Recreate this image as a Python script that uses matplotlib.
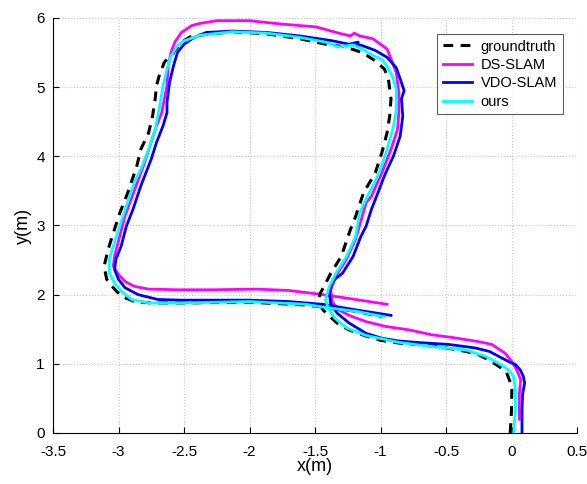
import matplotlib
matplotlib.use("Agg")
from matplotlib import pyplot as plt

plt.rcParams["font.family"] = ["Liberation Sans", "DejaVu Sans"]
plt.rcParams["axes.unicode_minus"] = False

# trajectories (x, y in metres)
gt_x = [-0.01, 0.0, 0.003, -0.037, -0.08, -0.15, -0.25, -0.35, -0.5, -0.66, -0.86, -1.0,
        -1.11, -1.24, -1.32, -1.39, -1.44, -1.47, -1.46, -1.43, -1.38, -1.30, -1.23,
        -1.19, -1.13, -1.04, -0.99, -0.95, -0.93, -0.92, -0.94, -0.97, -1.04, -1.14,
        -1.27, -1.42, -1.62, -1.87, -2.13, -2.38, -2.44, -2.52, -2.58, -2.65, -2.69,
        -2.71, -2.72, -2.74, -2.77, -2.83, -2.86, -2.93, -2.99, -3.04, -3.08, -3.11,
        -3.09, -3.04, -2.98, -2.88, -2.75, -2.5, -2.0, -1.57, -1.44, -1.19, -0.99]
gt_y = [0.0, 0.33, 0.67, 0.87, 0.94, 1.03, 1.13, 1.18, 1.23, 1.27, 1.30, 1.34,
        1.40, 1.49, 1.57, 1.69, 1.78, 1.95, 2.02, 2.12, 2.31, 2.55, 2.94,
        3.13, 3.47, 3.76, 4.05, 4.34, 4.58, 4.83, 5.12, 5.26, 5.38, 5.50,
        5.58, 5.62, 5.70, 5.77, 5.80, 5.75, 5.74, 5.65, 5.50, 5.36, 5.16,
        5.02, 4.83, 4.58, 4.34, 4.10, 3.86, 3.47, 3.18, 2.89, 2.65, 2.41,
        2.22, 2.10, 1.98, 1.90, 1.88, 1.88, 1.89, 1.85, 1.82, 1.76, 1.68]

ds_x = [0.06, 0.06, 0.07, 0.04, 0.003, -0.047, -0.15, -0.25, -0.45, -0.61, -0.78,
        -0.96, -1.11, -1.24, -1.32, -1.37, -1.38, -1.34, -1.26, -1.19, -1.11, -1.07,
        -0.99, -0.92, -0.87, -0.86, -0.86, -0.88, -0.91, -0.95, -1.0, -1.06, -1.16,
        -1.2, -1.23, -1.32, -1.49, -1.75, -2.0, -2.25, -2.38, -2.44, -2.52, -2.57,
        -2.60, -2.62, -2.63, -2.65, -2.67, -2.71, -2.76, -2.81, -2.88, -2.95, -2.99,
        -3.03, -3.04, -3.0, -2.95, -2.88, -2.77, -2.55, -2.27, -1.95, -1.70, -1.44,
        -1.19, -0.95]
ds_y = [0.2, 0.57, 0.77, 0.91, 1.03, 1.15, 1.28, 1.32, 1.38, 1.42, 1.49,
        1.54, 1.61, 1.70, 1.78, 1.90, 2.07, 2.27, 2.51, 2.80, 3.33, 3.42,
        3.76, 4.10, 4.39, 4.63, 4.92, 5.21, 5.36, 5.55, 5.62, 5.70, 5.74,
        5.78, 5.74, 5.78, 5.87, 5.91, 5.96, 5.96, 5.92, 5.89, 5.79, 5.65,
        5.50, 5.31, 5.02, 4.83, 4.63, 4.44, 4.15, 3.86, 3.50, 3.14, 2.85,
        2.56, 2.41, 2.29, 2.19, 2.12, 2.08, 2.07, 2.07, 2.08, 2.06, 2.0,
        1.93, 1.86]

vdo_x = [0.08, 0.08, 0.085, 0.10, 0.09, 0.067, 0.03, -0.02, -0.10, -0.17, -0.28,
         -0.48, -0.73, -0.86, -0.99, -1.11, -1.24, -1.33, -1.38, -1.39, -1.38, -1.35,
         -1.29, -1.21, -1.15, -1.11, -1.07, -1.01, -0.97, -0.90, -0.85, -0.83, -0.84,
         -0.82, -0.85, -0.88, -0.95, -1.04, -1.14, -1.18, -1.17, -1.24, -1.37, -1.62,
         -1.87, -2.13, -2.33, -2.42, -2.50, -2.55, -2.58, -2.61, -2.63, -2.63, -2.66,
         -2.71, -2.75, -2.83, -2.89, -2.94, -2.98, -3.02, -3.03, -3.0, -2.95, -2.85,
         -2.70, -2.52, -2.0, -1.70, -1.44, -1.19, -0.92]
vdo_y = [0.0, 0.33, 0.57, 0.72, 0.82, 0.91, 0.99, 1.03, 1.11, 1.18, 1.23,
         1.28, 1.31, 1.33, 1.37, 1.44, 1.59, 1.73, 1.86, 2.02, 2.12, 2.22,
         2.31, 2.55, 2.84, 2.99, 3.23, 3.52, 3.72, 4.01, 4.29, 4.58, 4.83,
         4.95, 5.12, 5.28, 5.43, 5.53, 5.60, 5.62, 5.65, 5.62, 5.67, 5.74,
         5.79, 5.81, 5.79, 5.72, 5.62, 5.50, 5.31, 5.07, 4.78, 4.63, 4.44,
         4.20, 3.96, 3.57, 3.23, 2.99, 2.70, 2.51, 2.36, 2.22, 2.10, 2.0,
         1.93, 1.92, 1.92, 1.90, 1.86, 1.78, 1.70]

ours_x = [0.016, 0.03, 0.03, 0.015, -0.02, -0.10, -0.2, -0.35, -0.61, -0.86, -1.11,
          -1.26, -1.35, -1.40, -1.42, -1.39, -1.34, -1.26, -1.19, -1.16, -1.10, -1.01,
          -0.95, -0.90, -0.88, -0.88, -0.91, -0.96, -0.99, -1.06, -1.14, -1.21, -1.32,
          -1.42, -1.62, -1.87, -2.13, -2.38, -2.42, -2.50, -2.55, -2.60, -2.63, -2.66,
          -2.69, -2.72, -2.77, -2.83, -2.88, -2.94, -3.0, -3.04, -3.07, -3.07, -3.03,
          -2.98, -2.90, -2.77, -2.5, -2.0, -1.57, -1.44, -1.19, -0.97]
ours_y = [0.0, 0.33, 0.62, 0.82, 0.91, 1.01, 1.11, 1.20, 1.25, 1.31, 1.41,
          1.52, 1.66, 1.81, 1.93, 2.12, 2.31, 2.55, 2.84, 3.18, 3.42, 3.76,
          4.10, 4.44, 4.68, 4.97, 5.16, 5.33, 5.40, 5.46, 5.55, 5.61, 5.58,
          5.65, 5.72, 5.78, 5.80, 5.75, 5.72, 5.67, 5.60, 5.45, 5.26, 5.02,
          4.68, 4.39, 4.10, 3.81, 3.62, 3.28, 2.94, 2.70, 2.51, 2.31, 2.17,
          2.05, 1.93, 1.88, 1.88, 1.90, 1.86, 1.82, 1.76, 1.68]

fig = plt.figure(figsize=(5.87, 4.84), dpi=100)
ax = fig.add_axes([0.0903, 0.1054, 0.8927, 0.8576])

ax.plot(gt_x, gt_y, color="black", lw=2.2, ls=(0, (3.2, 2.4)), label="groundtruth", zorder=3)
ax.plot(ds_x, ds_y, color="#ff00ff", lw=2, label="DS-SLAM", zorder=2)
ax.plot(vdo_x, vdo_y, color="#0000ff", lw=2, label="VDO-SLAM", zorder=2)
ax.plot(ours_x, ours_y, color="#00ffff", lw=2, label="ours", zorder=4)

ax.set_xlim(-3.5, 0.5)
ax.set_ylim(0, 6)
ax.set_xticks([-3.5, -3, -2.5, -2, -1.5, -1, -0.5, 0, 0.5])
ax.set_xticklabels(["-3.5", "-3", "-2.5", "-2", "-1.5", "-1", "-0.5", "0", "0.5"])
ax.set_yticks([0, 1, 2, 3, 4, 5, 6])
ax.tick_params(direction="in", labelsize=11, length=4, width=0.8, top=False, right=False)
ax.tick_params(axis="x", pad=9)
ax.tick_params(axis="y", pad=6)
ax.grid(True, color="#c8c8c8", ls=":", lw=0.8)
ax.spines["top"].set_visible(False)
ax.spines["right"].set_visible(False)
ax.set_xlabel("x(m)", fontsize=13, labelpad=-1)
ax.set_ylabel("y(m)", fontsize=13, labelpad=3)

leg = ax.legend(loc="upper left", bbox_to_anchor=(0.733, 0.962), borderaxespad=0,
                fontsize=10.5, frameon=True, fancybox=False, handlelength=2.0,
                borderpad=0.4, labelspacing=0.3, handletextpad=0.6)
leg.get_frame().set_edgecolor("#333333")
leg.get_frame().set_linewidth(0.8)

fig.savefig("out.png", dpi=100)
